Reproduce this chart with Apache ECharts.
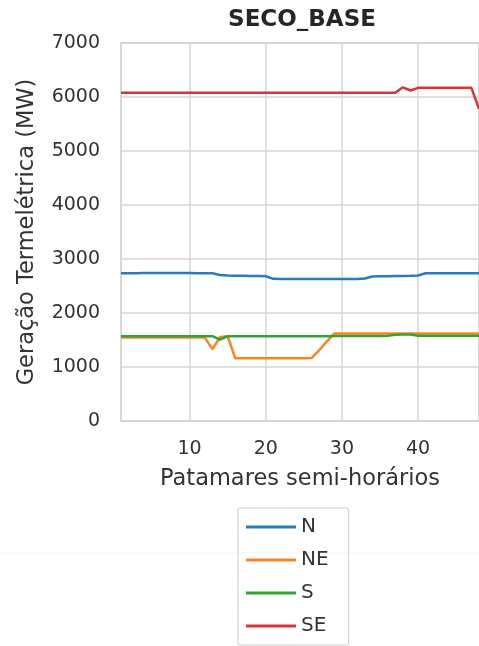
<!DOCTYPE html>
<html>
<head>
<meta charset="utf-8">
<script src="https://cdn.jsdelivr.net/npm/echarts@6/dist/echarts.min.js"></script>
<style>
  html, body { margin: 0; padding: 0; background: #ffffff; }
  #chart { width: 479px; height: 646px; }
</style>
</head>
<body>
<div id="chart"></div>
<script>
// Half-hourly periods of the day
const periods = [1,2,3,4,5,6,7,8,9,10,11,12,13,14,15,16,17,18,19,20,21,22,23,24,
                 25,26,27,28,29,30,31,32,33,34,35,36,37,38,39,40,41,42,43,44,45,46,47,48];

// Thermal generation per subsystem (MW)
const genN  = [2735,2735,2738,2740,2740,2740,2740,2740,2740,2740,2738,2738,2735,2705,2693,2690,
               2688,2686,2684,2680,2632,2630,2630,2630,2630,2630,2630,2630,2630,2630,2630,2630,
               2640,2675,2680,2682,2684,2686,2688,2695,2735,2735,2735,2735,2735,2735,2735,2735];
const genNE = [1545,1545,1545,1545,1545,1545,1545,1545,1545,1545,1545,1545,1330,1555,1570,1160,
               1160,1160,1160,1160,1160,1160,1160,1160,1160,1165,1310,1470,1620,1620,1620,1620,
               1620,1620,1620,1620,1620,1620,1620,1620,1620,1620,1620,1620,1620,1620,1620,1620];
const genS  = [1570,1570,1570,1570,1570,1570,1570,1570,1570,1570,1570,1570,1570,1505,1570,1570,
               1570,1570,1570,1570,1570,1570,1570,1570,1570,1570,1570,1570,1575,1575,1575,1575,
               1575,1575,1575,1580,1595,1600,1600,1580,1578,1578,1578,1578,1578,1578,1578,1578];
const genSE = [6080,6080,6080,6080,6080,6080,6080,6080,6080,6080,6080,6080,6080,6080,6080,6080,
               6080,6080,6080,6080,6080,6080,6080,6080,6080,6080,6080,6080,6080,6080,6080,6080,
               6080,6080,6080,6080,6080,6180,6120,6170,6170,6170,6170,6170,6170,6170,6170,5780];

const seriesNames = ['N', 'NE', 'S', 'SE'];
const seriesData = [genN, genNE, genS, genSE];
const seriesColors = ['#2b7bba', '#ff8420', '#34a336', '#d8353a'];

const xTicks = [10, 20, 30, 40];

const font = 'DejaVu Sans';
const textColor = '#333333';
const gridColor = '#d6d6d6';

const chart = echarts.init(document.getElementById('chart'), null, { renderer: 'canvas' });

chart.setOption({
  animation: false,
  backgroundColor: '#ffffff',
  title: {
    text: 'SECO_BASE',
    left: 302,
    top: 9,
    padding: 0,
    textAlign: 'center',
    textStyle: { fontFamily: font, fontSize: 23, fontWeight: 'bold', color: '#262626' }
  },
  grid: {
    left: 121,
    top: 43,
    right: -3,
    bottom: 225,
    show: true,
    borderColor: '#cccccc',
    borderWidth: 1.5,
    containLabel: false
  },
  xAxis: {
    type: 'value',
    min: 1,
    max: 48,
    name: 'Patamares semi-horários',
    nameLocation: 'middle',
    nameGap: 47,
    nameTextStyle: { fontFamily: font, fontSize: 22.5, color: textColor },
    axisLine: { show: false },
    axisTick: { show: false, customValues: xTicks },
    axisLabel: {
      customValues: xTicks,
      margin: 19,
      fontFamily: font, fontSize: 19, color: textColor
    },
    splitLine: { show: true, lineStyle: { color: gridColor, width: 1.5 } }
  },
  yAxis: {
    type: 'value',
    min: 0,
    max: 7000,
    interval: 1000,
    name: 'Geração Termelétrica (MW)',
    nameLocation: 'middle',
    nameGap: 82,
    nameTextStyle: { fontFamily: font, fontSize: 22.5, color: textColor },
    axisLine: { show: false },
    axisTick: { show: false },
    axisLabel: {
      margin: 21, fontFamily: font, fontSize: 19, color: textColor,
      formatter: (v) => String(v)
    },
    splitLine: { show: true, lineStyle: { color: gridColor, width: 1.5 } }
  },
  legend: {
    orient: 'vertical',
    left: 238,
    top: 508,
    padding: [8, 20, 8, 8],
    icon: 'rect',
    itemWidth: 50,
    itemHeight: 3,
    itemGap: 11,
    itemTextGap: 17,
    borderColor: '#cccccc',
    borderWidth: 1,
    borderRadius: 2,
    textStyle: { fontFamily: font, fontSize: 20, color: textColor, lineHeight: 22 },
    data: seriesNames
  },
  graphic: [{
    type: 'line',
    silent: true,
    z: -1,
    shape: { x1: 0, y1: 553, x2: 479, y2: 553 },
    style: { stroke: '#f3f3f3', lineWidth: 1 }
  }],
  series: seriesNames.map((name, i) => ({
    name: name,
    type: 'line',
    symbol: 'none',
    color: seriesColors[i],
    lineStyle: { width: 2.5, color: seriesColors[i] },
    data: periods.map((p, k) => [p, seriesData[i][k]])
  }))
});
</script>
</body>
</html>
